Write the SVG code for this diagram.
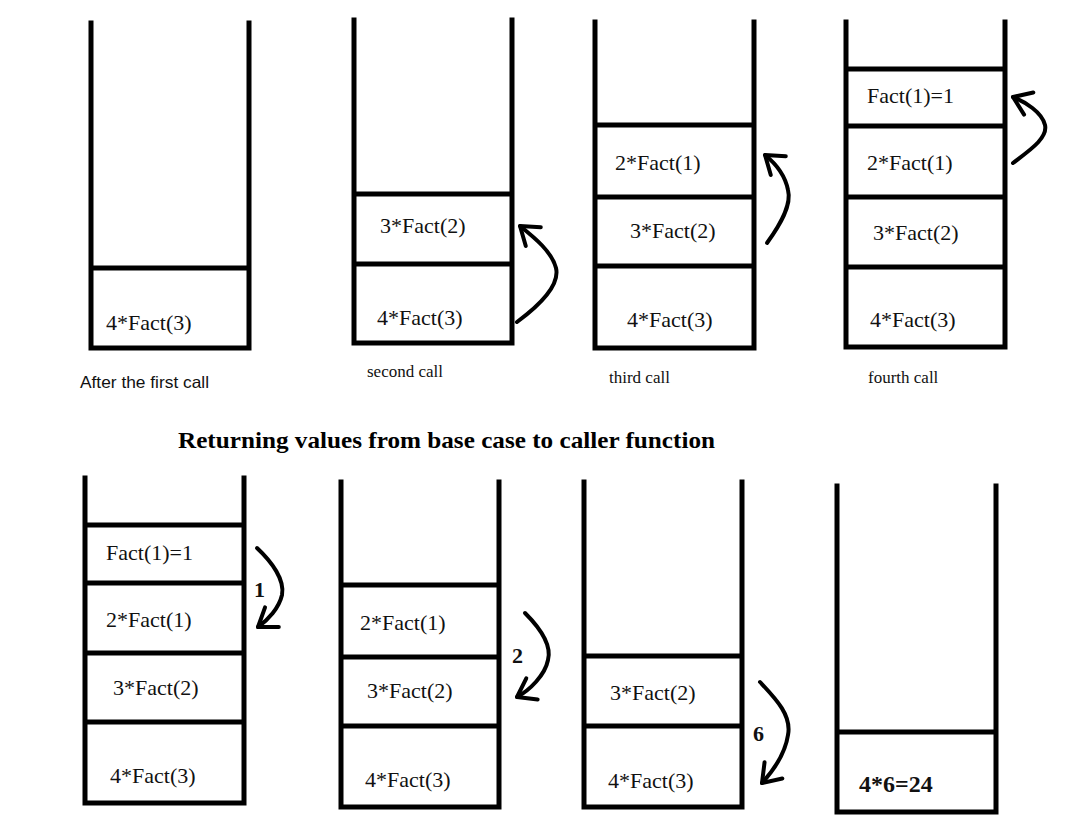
<svg xmlns="http://www.w3.org/2000/svg" width="1082" height="837" viewBox="0 0 1082 837">
<defs>
<style>
.wall{fill:none;stroke:#000;stroke-width:5;stroke-linecap:square;stroke-linejoin:miter}
.sep{stroke:#000;stroke-width:5}
.cell{font-family:"Liberation Serif","Times New Roman",serif;font-size:22px;fill:#111}
.cap{font-family:"Liberation Serif","Times New Roman",serif;font-size:17px;fill:#111}
.cap2{font-family:"Liberation Sans",Arial,sans-serif;font-size:16.5px;fill:#111}
.num{font-family:"Liberation Serif","Times New Roman",serif;font-size:22px;font-weight:bold;fill:#111}
.title{font-family:"Liberation Serif","Times New Roman",serif;font-size:23px;font-weight:bold;fill:#000}
.arr{fill:none;stroke:#000;stroke-width:4;stroke-linecap:round;stroke-linejoin:round;marker-end:url(#chev)}
</style>
<marker id="chev" markerUnits="userSpaceOnUse" markerWidth="40" markerHeight="40" refX="0" refY="0" orient="auto" overflow="visible">
<path d="M-17,-12 L0,0 L-17,12" fill="none" stroke="#000" stroke-width="4" stroke-linecap="round" stroke-linejoin="round"/>
</marker>
</defs>
<rect width="1082" height="837" fill="#fff"/>

<g id="stack1">
<path class="wall" d="M91,23 V348 H249 V23"/>
<line class="sep" x1="91" y1="268" x2="251" y2="268"/>
<text class="cell" x="106" y="330">4*Fact(3)</text>
<text class="cap2" x="80" y="388" textLength="129" lengthAdjust="spacingAndGlyphs">After the first call</text>
</g>

<g id="stack2">
<path class="wall" d="M354,20 V343 H512 V20"/>
<line class="sep" x1="354" y1="194" x2="514" y2="194"/>
<line class="sep" x1="354" y1="264" x2="514" y2="264"/>
<text class="cell" x="380" y="233">3*Fact(2)</text>
<text class="cell" x="377" y="325">4*Fact(3)</text>
<text class="cap" x="367" y="377">second call</text>
</g>

<g id="stack3">
<path class="wall" d="M595,22 V348 H754 V22"/>
<line class="sep" x1="595" y1="125" x2="756" y2="125"/>
<line class="sep" x1="595" y1="197" x2="756" y2="197"/>
<line class="sep" x1="595" y1="266" x2="756" y2="266"/>
<text class="cell" x="615" y="170">2*Fact(1)</text>
<text class="cell" x="630" y="238">3*Fact(2)</text>
<text class="cell" x="627" y="327">4*Fact(3)</text>
<text class="cap" x="609" y="383">third call</text>
</g>

<g id="stack4">
<path class="wall" d="M846,22 V347 H1005 V22"/>
<line class="sep" x1="846" y1="69" x2="1007" y2="69"/>
<line class="sep" x1="846" y1="126" x2="1007" y2="126"/>
<line class="sep" x1="846" y1="197" x2="1007" y2="197"/>
<line class="sep" x1="846" y1="267" x2="1007" y2="267"/>
<text class="cell" x="867" y="103">Fact(1)=1</text>
<text class="cell" x="867" y="170">2*Fact(1)</text>
<text class="cell" x="873" y="240">3*Fact(2)</text>
<text class="cell" x="870" y="327">4*Fact(3)</text>
<text class="cap" x="868" y="383">fourth call</text>
</g>

<text id="title" class="title" x="178" y="448" textLength="537" lengthAdjust="spacingAndGlyphs">Returning values from base case to caller function</text>

<g id="stack5">
<path class="wall" d="M85,478 V803 H244 V478"/>
<line class="sep" x1="85" y1="525" x2="246" y2="525"/>
<line class="sep" x1="85" y1="583" x2="246" y2="583"/>
<line class="sep" x1="85" y1="653" x2="246" y2="653"/>
<line class="sep" x1="85" y1="722" x2="246" y2="722"/>
<text class="cell" x="106" y="560">Fact(1)=1</text>
<text class="cell" x="106" y="627">2*Fact(1)</text>
<text class="cell" x="113" y="695">3*Fact(2)</text>
<text class="cell" x="110" y="783">4*Fact(3)</text>
</g>

<g id="stack6">
<path class="wall" d="M341,482 V807 H499 V482"/>
<line class="sep" x1="341" y1="585" x2="501" y2="585"/>
<line class="sep" x1="341" y1="657" x2="501" y2="657"/>
<line class="sep" x1="341" y1="726" x2="501" y2="726"/>
<text class="cell" x="360" y="630">2*Fact(1)</text>
<text class="cell" x="367" y="698">3*Fact(2)</text>
<text class="cell" x="365" y="787">4*Fact(3)</text>
</g>

<g id="stack7">
<path class="wall" d="M584,482 V807 H742 V482"/>
<line class="sep" x1="584" y1="656" x2="744" y2="656"/>
<line class="sep" x1="584" y1="726" x2="744" y2="726"/>
<text class="cell" x="610" y="700">3*Fact(2)</text>
<text class="cell" x="608" y="788">4*Fact(3)</text>
</g>

<g id="stack8">
<path class="wall" d="M837,486 V812 H996 V486"/>
<line class="sep" x1="837" y1="732" x2="998" y2="732"/>
<text class="num" x="859" y="792" style="font-size:24px">4*6=24</text>
</g>

<g id="connectors">
<path class="arr" d="M517,322 C540,305 560,285 556,268 C552,252 535,238 520,226"/>
<path class="arr" d="M767,243 C780,225 792,205 788,190 C785,175 775,163 765,155"/>
<path class="arr" d="M1013,163 C1030,150 1048,138 1045,125 C1042,112 1025,102 1013,97"/>
<path class="arr" d="M257,548 C272,562 285,580 282,595 C279,608 268,620 258,627"/>
<path class="arr" d="M525,613 C540,628 552,645 548,660 C545,675 530,690 517,697"/>
<path class="arr" d="M760,682 C775,698 792,715 788,735 C785,755 772,772 762,783"/>
<text class="num" x="254" y="597">1</text>
<text class="num" x="512" y="663">2</text>
<text class="num" x="753" y="741">6</text>
</g>
</svg>
